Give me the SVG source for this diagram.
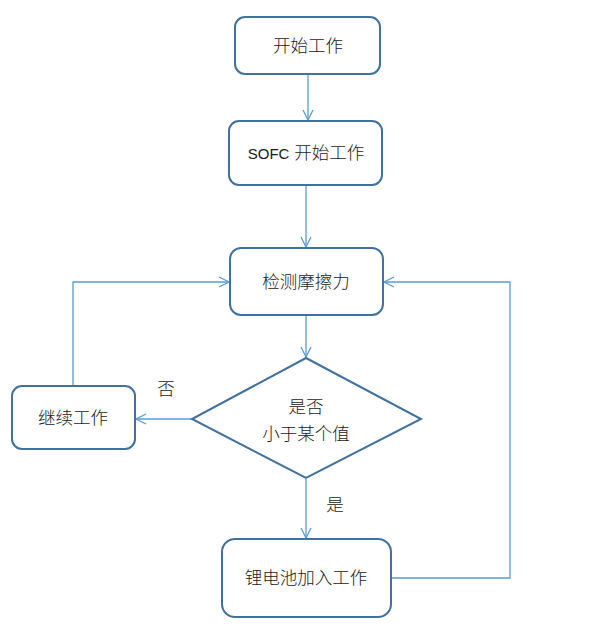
<svg xmlns="http://www.w3.org/2000/svg" width="593" height="640" viewBox="0 0 593 640">
<style>
.node{fill:#fff;stroke:#41719c;stroke-width:2}
.edge{fill:none;stroke:#5b9bd5;stroke-width:1.3}
.t{font-family:"Liberation Sans","Noto Sans CJK SC",sans-serif;font-size:17.5px;font-weight:300;fill:#1a1a1a;text-anchor:middle}
</style>
<defs>
<marker id="arr" viewBox="0 0 12 12" refX="11" refY="6" markerWidth="12" markerHeight="12" markerUnits="userSpaceOnUse" orient="auto">
<path d="M1,1 L11,6 L1,11" fill="none" stroke="#5b9bd5" stroke-width="1.3"/>
</marker>
</defs>
<rect width="593" height="640" fill="#fff"/>
<g id="connectors">
<path class="edge" d="M308,74 V120" marker-end="url(#arr)"/>
<path class="edge" d="M306,185 V247" marker-end="url(#arr)"/>
<path class="edge" d="M306,315 V357" marker-end="url(#arr)"/>
<path class="edge" d="M192,419 H136" marker-end="url(#arr)"/>
<path class="edge" d="M73,386 V282 H229" marker-end="url(#arr)"/>
<path class="edge" d="M306,479 V538" marker-end="url(#arr)"/>
<path class="edge" d="M391,578 H510 V282 H384" marker-end="url(#arr)"/>
<text class="t" x="166" y="395">否</text>
<text class="t" x="335" y="511">是</text>
</g>
<g id="start">
<rect class="node" x="235" y="17" width="145" height="57" rx="10"/>
<text class="t" x="308" y="52">开始工作</text>
</g>
<g id="sofc">
<rect class="node" x="229" y="121" width="153" height="64" rx="10"/>
<text class="t" x="306" y="159"><tspan font-size="15px">SOFC</tspan> 开始工作</text>
</g>
<g id="detect">
<rect class="node" x="230" y="248" width="153" height="67" rx="11"/>
<text class="t" x="306" y="288">检测摩擦力</text>
</g>
<g id="decision">
<polygon class="node" points="306,358 421,419 306,478 192,419"/>
<text class="t" x="306" y="413">是否</text>
<text class="t" x="306" y="440">小于某个值</text>
</g>
<g id="continue">
<rect class="node" x="12" y="386" width="123" height="63" rx="10"/>
<text class="t" x="73" y="424">继续工作</text>
</g>
<g id="battery">
<rect class="node" x="222" y="539" width="169" height="78" rx="13"/>
<text class="t" x="306" y="584">锂电池加入工作</text>
</g>
</svg>
